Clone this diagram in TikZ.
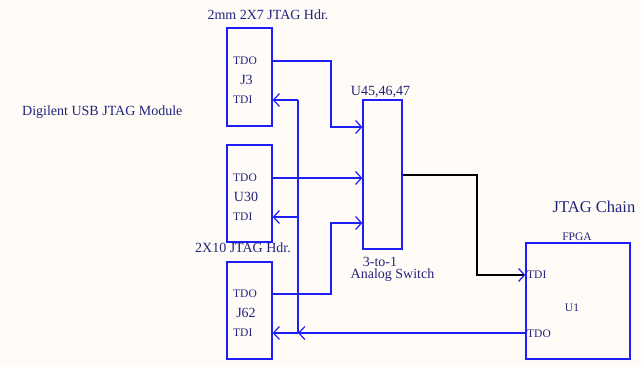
\documentclass[tikz,border=0pt]{standalone}
\usepackage{fontspec}
\setmainfont{Liberation Serif}
\usetikzlibrary{arrows.meta}
\definecolor{paper}{RGB}{255,252,248}
\definecolor{ink}{RGB}{35,35,125}
\definecolor{wire}{RGB}{30,30,250}
\tikzset{
	part/.style = {draw = wire, line width = 1.3pt, minimum width = 45pt, inner sep = 0pt},
	lbl/.style = {text = ink, inner sep = 0pt, font = \fontsize{14}{14}\selectfont},
	pin/.style = {text = ink, inner sep = 0pt, anchor = west, font = \fontsize{11.5}{12}\selectfont},
	sig/.style = {draw = wire, line width = 1.2pt, -{Straight Barb[length = 6pt, width = 13pt]}},
	net/.style = {draw = wire, line width = 1.2pt}
}
\begin{document}
\begin{tikzpicture}[x = 1pt, y = -1pt]
	\fill[paper] (0,0) rectangle (641,366);
	\useasboundingbox (0,0) rectangle (641,366);
	\node[part, minimum height = 98pt] (j3) at (249.5,77) {};
	\node[part, minimum height = 97pt] (u30) at (249.5,193.5) {};
	\node[part, minimum height = 97pt] (j62) at (249.5,310.5) {};
	\node[part, minimum width = 39pt, minimum height = 149pt] (sw) at (382.5,174.5) {};
	\node[part, minimum width = 104pt, minimum height = 116pt] (u1) at (578,301) {};
	\node[lbl] (hdr7) at (268,15) {2mm 2X7 JTAG Hdr.};
	\node[lbl, anchor = west] (usb) at (22,112) {Digilent USB JTAG Module};
	\node[lbl] (hdr10) at (243,248) {2X10 JTAG Hdr.};
	\node[lbl] (swname) at (380.5,92) {U45,46,47};
	\node[lbl, anchor = base] (swa) at (380,266.5) {3-to-1};
	\node[lbl, anchor = base] (swb) at (392.5,279) {Analog Switch};
	\node[lbl, font = \fontsize{16.5}{17}\selectfont] (chain) at (594,207) {JTAG Chain};
	\node[lbl, font = \fontsize{11.5}{12}\selectfont] (fpga) at (577,237) {FPGA};
	\node[pin] (j3o) at (233,61) {TDO};
	\node[lbl] (j3n) at (246.5,80) {J3};
	\node[pin] (j3i) at (233,100) {TDI};
	\node[pin] (u30o) at (233,178) {TDO};
	\node[lbl] (u30n) at (246,197) {U30};
	\node[pin] (u30i) at (233,217) {TDI};
	\node[pin] (j62o) at (233,294) {TDO};
	\node[lbl] (j62n) at (246,313) {J62};
	\node[pin] (j62i) at (233,333) {TDI};
	\node[pin] (u1i) at (527,275) {TDI};
	\node[lbl, font = \fontsize{11.5}{12}\selectfont] (u1n) at (572,308) {U1};
	\node[pin] (u1o) at (527,334) {TDO};
	\coordinate (jn) at (298,333);
	\draw[sig] (j3o -| j3.east) -| (331,127) -- (sw.west |- 0,127);
	\draw[sig] (u30o -| u30.east) -- (sw.west |- 0,178);
	\draw[sig] (j62o -| j62.east) -| (331,223) -- (sw.west |- 0,223);
	\draw[black, line width = 1.2pt, -{Straight Barb[length = 6pt, width = 13pt, color = wire]}]
		(sw.east |- 0,175) -| (477,275) -- (u1.west |- 0,275);
	\draw[sig] (u1.west |- 0,333) -- (jn);
	\draw[sig] (jn) -- (j62i -| j62.east);
	\draw[net] (jn) -- (298,100);
	\draw[sig] (298,100) -- (j3i -| j3.east);
	\draw[sig] (298,217) -- (u30i -| u30.east);
\end{tikzpicture}
\end{document}
